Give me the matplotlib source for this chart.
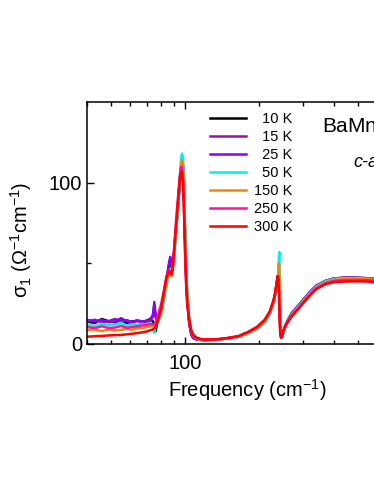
import matplotlib
matplotlib.use("Agg")
import matplotlib.pyplot as plt
from matplotlib.ticker import FixedLocator, NullFormatter, FixedFormatter

plt.rcParams['font.family'] = ['Liberation Sans', 'DejaVu Sans']
plt.rcParams['mathtext.fontset'] = 'custom'
plt.rcParams['mathtext.rm'] = 'Liberation Sans'
plt.rcParams['mathtext.it'] = 'Liberation Sans:italic'

# frequency grid (cm^-1), shared by all temperatures
freq = [40, 43, 46, 49, 52, 55, 58, 61, 64, 67,
        70, 72, 74, 75, 76, 77, 78, 80, 82, 84,
        86, 87, 88, 89, 90, 92, 94, 95, 96, 97,
        98, 99, 100, 101, 102, 104, 106, 108, 111, 115,
        120, 130, 140, 150, 165, 180, 195, 210, 220, 228,
        232, 235, 237, 239, 240, 241, 242, 243, 245, 247,
        250, 255, 262, 270, 285, 300, 320, 340, 370, 400,
        440, 480, 530, 580, 650, 700]

# sigma_1 (Ohm^-1 cm^-1)
s10 = [14, 13, 15.5, 14, 13.5, 15, 13, 14, 14.5, 13.8,
       14.5, 15.5, 14, 12, 8, 14, 15, 19, 29, 39,
       48, 51, 48, 47, 54, 71, 89, 99, 107, 112,
       110, 93, 66, 43, 29, 13, 6, 3.8, 2.9, 2.5,
       2.4, 2.6, 3.0, 3.6, 4.5, 6.8, 9.5, 14, 19, 25.5,
       31, 37, 41, 42, 43, 37, 24, 11, 4, 4,
       7.5, 11.5, 15.2, 18.8, 23, 27, 32, 36, 39, 40.5,
       41, 41, 40.8, 40.5, 40.3, 40.2]
s15 = [14, 15, 13.5, 14.2, 15.5, 14, 14.8, 13.5, 14.5, 14,
       14.2, 14.5, 17, 26, 17, 15, 15.5, 20, 30, 40,
       49, 52, 49, 48, 55, 72, 90, 100, 108, 112,
       109, 91, 64, 42, 28, 12.5, 6, 3.8, 2.9, 2.5,
       2.5, 2.6, 3.0, 3.6, 4.5, 6.8, 9.5, 14, 19, 25.5,
       31, 37, 41, 42, 43, 37, 24, 11, 4, 4,
       7.5, 11.5, 15.2, 18.8, 23, 27, 32, 36, 39, 40.6,
       41.1, 41.1, 40.9, 40.6, 40.4, 40.3]
s25 = [15, 13.8, 15, 13.5, 14, 16, 14, 13.5, 14.2, 13.5,
       14, 15, 18, 24, 16, 14, 15, 20, 30, 40,
       50, 54, 50, 48, 55, 72, 90, 100, 109, 113,
       110, 92, 65, 42, 28, 12, 5.5, 3.5, 2.8, 2.5,
       2.4, 2.6, 3.0, 3.6, 4.5, 6.8, 9.5, 14, 19, 25.5,
       31, 37, 41, 42, 44, 38, 24, 11, 4, 4,
       7.5, 11.5, 15.2, 18.8, 23, 27, 32, 36, 39, 40.5,
       41, 41, 40.8, 40.5, 40.3, 40.2]
s50 = [12, 11, 12.5, 11.5, 12, 13, 11.2, 12.2, 11.8, 12.5,
       12, 13, 10, 7, 12, 14, 15, 18, 27, 36,
       44, 46, 45, 47, 52, 70, 90, 102, 112, 118,
       116, 100, 72, 48, 32, 16, 8, 4.8, 3.3, 2.6,
       2.4, 2.6, 3.0, 3.5, 4.3, 6.4, 9, 13.5, 18.5, 25,
       30, 36, 40, 45, 55, 57, 40, 18, 5, 3.5,
       7, 11, 14.8, 18.2, 22.5, 26.5, 31.5, 35.5, 38.8, 40.3,
       40.8, 40.8, 40.6, 40.3, 40.1, 40]
s150 = [8.5, 9, 8, 9, 8.3, 8.8, 9.5, 8.8, 9.8, 10,
        10.5, 11, 11.5, 11, 12, 13, 15, 20, 29, 38,
        44, 44, 42, 45, 53, 72, 91, 101, 109, 114,
        112, 95, 68, 45, 30, 15, 8, 5, 3.5, 2.8,
        2.6, 2.7, 3.0, 3.5, 4.5, 6.8, 9.5, 14, 19, 25.5,
        31, 37, 40, 44, 50, 44, 26, 12, 4, 4.5,
        7.8, 11.2, 14.5, 17.8, 22, 26, 31, 35, 38.2, 39.8,
        40.3, 40.4, 40.3, 40, 39.8, 39.7]
s250 = [10.5, 9.8, 11, 9.8, 10.2, 11.2, 10, 10.5, 11, 11.5,
        11.8, 12.5, 12, 12.5, 14, 16, 19, 25, 33, 42,
        46, 45, 44, 47, 57, 77, 95, 103, 109, 110,
        103, 83, 57, 37, 25, 13, 7.5, 5, 3.6, 3,
        2.7, 2.7, 3.1, 3.7, 4.8, 7.2, 10, 14.5, 19.5, 26.5,
        32, 38, 42, 42, 36, 24, 14, 7, 3.8, 5,
        8.2, 11.5, 14.5, 17.5, 21.5, 25.5, 30.5, 34.5, 37.5, 39,
        39.5, 39.6, 39.6, 39.4, 39.2, 39]
s300 = [4.5, 4.8, 5.0, 5.3, 5.5, 5.6, 6.0, 6.3, 6.8, 7.2,
        7.8, 8.5, 9, 9.5, 11, 13, 16, 22, 32, 41,
        45, 44, 43, 46, 56, 75, 92, 100, 106, 107,
        100, 80, 55, 36, 25, 14, 8, 5.5, 4, 3.2,
        2.8, 2.8, 3.2, 3.8, 5.0, 7.5, 10.5, 15, 20, 27,
        32, 38, 42, 40, 32, 22, 13, 7, 4, 5,
        8, 11, 14, 17, 21, 25, 30, 34, 37, 38.3,
        38.7, 38.8, 38.8, 38.5, 38.3, 38.2]

temps = ['10 K', '15 K', '25 K', '50 K', '150 K', '250 K', '300 K']
series = [s10, s15, s25, s50, s150, s250, s300]
colors = ['#000000', '#8B1A9B', '#8A00FF', '#00F0F0', '#FF8000', '#FF1493', '#FF0000']

fig = plt.figure(figsize=(3.74, 4.84), dpi=100)
ax = fig.add_axes([0.2326, 0.2893, 0.858, 0.5])

for lab, s, c in zip(temps, series, colors):
    # pad short labels with a figure space so they right-align like the original
    pad = '\u2007' if len(lab) == 4 else ''
    ax.plot(freq, s, color=c, lw=1.8, label=pad + lab)

ax.set_xscale('log')
ax.set_xlim(40, 800)
ax.set_ylim(0, 150)
ax.xaxis.set_major_locator(FixedLocator([100]))
ax.xaxis.set_major_formatter(FixedFormatter(['100']))
ax.xaxis.set_minor_locator(FixedLocator([40, 50, 60, 70, 80, 90, 200, 300, 400, 500, 600, 700, 800]))
ax.xaxis.set_minor_formatter(NullFormatter())
ax.yaxis.set_major_locator(FixedLocator([0, 100]))
ax.yaxis.set_minor_locator(FixedLocator([50]))

ax.tick_params(which='both', direction='in', top=True, right=True, labelsize=14.5, width=1)
ax.tick_params(which='major', length=5)
ax.tick_params(which='minor', length=3)
ax.tick_params(axis='x', which='major', pad=7)
for sp in ax.spines.values():
    sp.set_linewidth(1.1)

ax.set_xlabel('Frequency (cm$^{-1}$)', fontsize=14.5, labelpad=3)
ax.set_ylabel('σ$_1$ (Ω$^{-1}$cm$^{-1}$)', fontsize=14.5)
ax.yaxis.set_label_coords(-0.165, 0.43)

leg = ax.legend(loc='upper left', bbox_to_anchor=(0.383, 0.957), frameon=False,
                fontsize=10.5, handlelength=2.5, handletextpad=0.5,
                labelspacing=0.27, borderpad=0, borderaxespad=0)

ax.text(0.732, 0.872, 'BaMn$_2$As$_2$', transform=ax.transAxes, fontsize=15,
        va='baseline', ha='left')
ax.text(0.829, 0.748, 'c-axis', transform=ax.transAxes, fontsize=13,
        style='italic', va='center', ha='left')

fig.savefig('out.png', dpi=100)
